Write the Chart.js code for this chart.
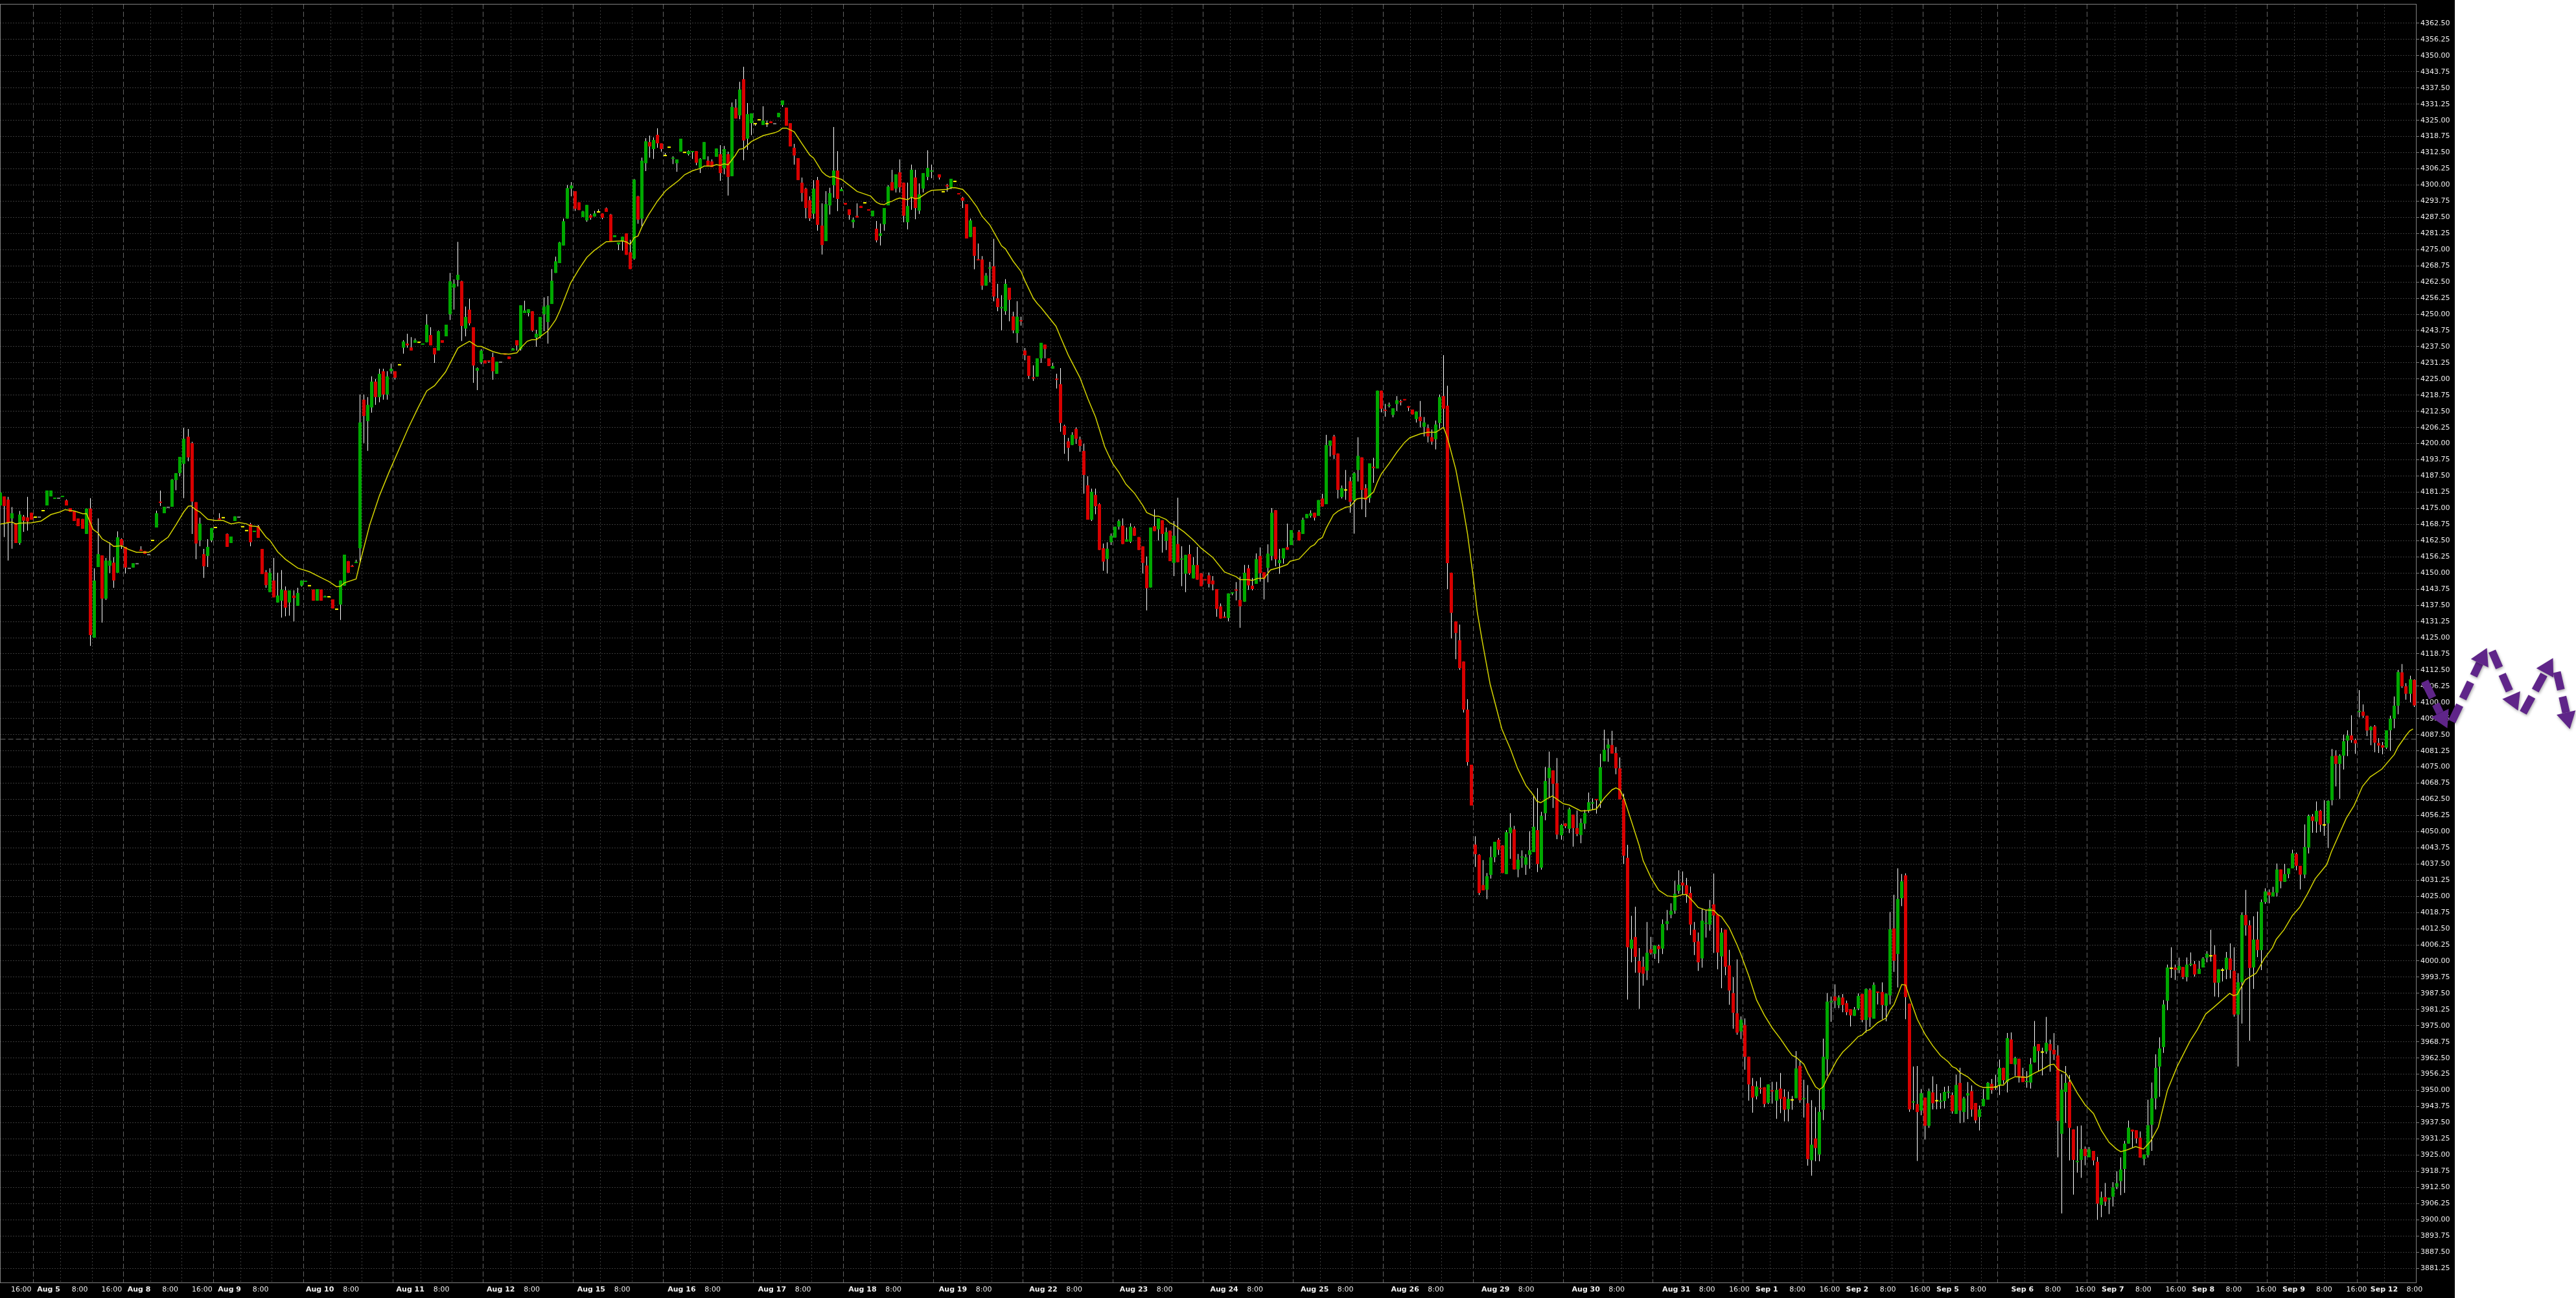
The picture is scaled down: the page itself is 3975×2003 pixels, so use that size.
<!DOCTYPE html>
<html>
<head>
<meta charset="utf-8">
<script src="https://cdn.jsdelivr.net/npm/chart.js@4"></script>
<style>
    html, body { margin: 0; padding: 0; background: #fff; }
    canvas { display: block; }
</style>
</head>
<body>
<canvas id="priceChart" width="3975" height="2003"></canvas>
<script>
// Hourly bars, one line = ten bars. Empty slot in highs / lows = no wick past the body.
const opens = [
4176.1,4179.6,4178.4,4171.1,4169.2,4161.6,4171.8,4171.5,4173.3,4171.6,
4171.6,4174.1,4176.1,4179.6,4178.7,4178.9,4179.4,4178.1,4175.1,4174,
4171.1,4170.9,4165.1,4174.9,4125,4152.3,4156.8,4140.1,4152.8,4154,
4150.1,4163.1,4160.1,4151.8,4152.1,4153.6,4159,4158.5,4157.1,4162.6,
4167.6,4177.6,4173.1,4175.4,4175.6,4185.9,4188.6,4192.2,4202.7,4200.2,
4177.4,4162.6,4157.3,4156.6,4162.6,4167.6,4171.1,4171.4,4165.1,4161.6,
4170.1,4171.6,4167.9,4166.4,4168.9,4165.9,4168.1,4159.3,4150.3,4142.6,
4147.1,4138.6,4139.3,4143.3,4138.6,4141.3,4137.3,4145.1,4146.6,4145.1,
4143.6,4139.3,4143.6,4140.6,4140.8,4139.8,4136,4137.8,4145.1,4154.6,
4152.8,4153.9,4159.6,4217,4208.7,4214,4224,4218,4228,4219,
4228,4228,4230.5,4237.1,4238.7,4237.2,4239,4239.2,4238.3,4239.2,
4242,4237,4236,4240,4241.5,4250,4260.3,4263.3,4262.8,4244.5,
4251.8,4245,4228.2,4231.5,4232.2,4232.2,4233.5,4227,4231.5,4234.8,
4233.7,4236,4240,4236.5,4250.5,4250.5,4251.2,4241,4241.5,4250,
4247,4254,4266,4269.8,4276.6,4287,4298.6,4297.6,4293.3,4287.6,
4286.3,4288.3,4287.8,4289.6,4289,4291,4288.6,4279.8,4277,4278.3,
4281.3,4274,4271.5,4295.6,4287,4308.4,4316.6,4313.9,4319.4,4316.1,
4311.4,4314.6,4310.1,4308.4,4312.9,4312.6,4311.9,4312.7,4313.1,4306.6,
4309.9,4309.4,4309.1,4310.9,4311.9,4306.4,4311.9,4303.4,4329.9,4326.9,
4340.9,4317.9,4323.9,4323.7,4325.2,4323.2,4323.7,4324.6,4323.7,4326.2,
4330.9,4329.9,4323.9,4314.4,4310.4,4300.9,4298.6,4294.1,4288.9,4301.9,
4284.3,4278.3,4292.1,4299.9,4305.6,4297.6,4293.1,4290.6,4285.6,4288.1,
4291.9,4293.1,4290.6,4287.9,4283.1,4280.3,4284.8,4292.1,4301.1,4298.6,
4304.9,4300.9,4285.6,4295.4,4302.9,4290.1,4298.6,4303.1,4305.2,,
4304.1,4297.4,4300,4299.1,4301.4,4296.8,4295.1,4292.6,4279.9,4283.8,
4271.3,4271.2,4261.1,4267.7,4268.6,4256.2,4252.4,4251.2,4260.3,4249.2,
4242.7,4247.7,4236,4234,4225.6,4225.9,4233,4238.3,4233,4229,
4225.1,4223,4206.9,4200.9,4199.5,4205.7,4201.6,4197.2,4183.9,4170.6,
4180.2,4176.6,4159.6,4155.4,4161.9,4163.7,4167.9,4168.3,4162.1,4162.1,
4167.5,4163.9,4160.3,4152.9,4144.4,4168.1,4166.9,4170.4,4162.4,4166.4,
4153.9,4161.2,4155.2,4149.7,4157.3,4147.9,4153.1,4149.9,4147.6,4149.1,
4147.1,4143.8,4137.1,4133.1,4132.6,4142.1,4143.6,4139.6,4138.9,4151.8,
4145.1,4145.8,4156.6,4150.3,4152,4156.6,4174.3,4153.8,4155.6,4160,
4160.8,,4165.9,4165.1,4171.2,4172.1,4173.3,4172.1,4178.8,4176.6,
4199.2,4202.8,4196.2,4179.4,4182.1,4185.5,4178.2,4189.8,4194.7,4182.8,
4179,4191,4190.4,4220.5,4213.1,4214.6,4211.1,4215.3,4216.4,4217.2,
4214.5,4213.2,4209.5,4210.4,4206.5,4206,4202.5,4201.7,4208,4218.4,
4214.7,4150.1,4131.3,4124,4115.8,4097.2,4075.9,4045,4041,4029.4,
4027.6,4033.3,4040.1,4046.9,4044.7,4033.6,4049.4,4050.9,4035.4,4040,
4037.2,4041,4042.1,4050.6,4036.1,4057.1,4070.7,4073.7,4068.7,4048.6,
4053.2,4051.1,4056.6,4051.4,4048.7,4053.1,4058.2,4060.9,4062.6,4062,
4077.2,4082.2,4083.5,4080.4,4074.5,4062.5,4039.9,4004.8,4009.3,4000,
3997.8,3996.3,4004.5,4002.8,4005.8,4004.8,4014.3,4017.9,4019.5,4027.1,
4030.3,4029.3,4026.3,4012.1,4007.6,4001,4014.4,4014.1,4021.9,4018,
4001.8,4012.1,3998.3,3987.6,3979.8,3972.8,3975.3,3963,3951.7,3947.7,
3950.9,3951.2,3945.2,3950,3946,3950.7,3947.5,3942.7,3946.3,3947,
3959.5,3946.6,3945,3923,3931.4,3925.2,3942.5,3962,3984.1,3986.3,
3982.9,3985.9,3983.7,3981.4,3978.8,3981.6,3987.3,3977.2,3988.8,3977.7,
3988.2,3988,3982.7,3986.7,4012.6,4002.7,4024.3,4033.1,3983.5,3945.3,
3944.7,3942.2,3947.2,3936.3,3949.2,3946,3945.6,3945.9,3949.1,3948.2,
3940.9,3952.9,3941.6,3948,3949.7,3945.1,3939.7,3943.9,3946.4,3952.5,
3951.3,3952.1,3958.7,3953.3,3969.7,3960,3962.2,3955.5,3953.2,3953,
3960.8,3967.9,3964.8,3965,3967.9,3965.7,3963.5,3933.2,3949.4,3953.3,
3934.9,3922.3,3923.1,3927.4,3924.1,3926.6,3922.4,3905.7,3908.8,3907.8,
3908.9,3912.7,3914.9,3919.6,3929.4,3934.8,3934.6,3931.7,3923.5,3925,
3936.7,3946.9,3959.2,3966.7,3984.6,3997.2,3997.5,3996.5,3997.7,3993.8,
3998.5,3998.8,3995,3997.5,4001.3,4002,4002.5,3991.6,3996.5,3996.7,
4001,3996.2,3979.3,3991.8,4017.8,4013.8,3997.5,4008.3,4004.2,4022.8,
4026.6,4025,4026.4,4035.4,4030.6,4033.6,4035.8,4041.4,4036.8,4033.4,
4043.9,4055.9,4053.9,4058.1,4052.6,4053.2,4062.2,4079.4,4076.2,4079.4,
4085.2,4087.2,4085.4,4096.3,4096.4,4094.8,4089.2,4090.7,4084.3,4083.4,
4082.5,4089.2,4093.7,4098.7,4111.6,4106.2,4103.3,4108.7
];
const closes = [
4181.1,4175.9,4169.4,4173.1,4161.6,4172.6,4170.2,4169.9,4170.6,4171.6,
4171.6,4174.1,4181.9,4181.9,4179.1,4178.9,4179.8,4176.1,4173.6,4170.1,
4168.1,4167.1,4174.9,4126,4147.1,4157.3,4140.1,4154.8,4154.8,4147.1,
4163.8,4160.7,4152.1,4151.8,4153.8,4153.6,4158.6,4157.4,4157.1,4162.6,
4173.1,4177.1,4175.6,4175.4,4186.1,4188.6,4194.9,4201.9,4194.7,4177.6,
4161.4,4169.1,4152.6,4160.1,4167.4,4167.6,4170.6,4171.4,4160.1,4164.1,
4171.9,4171.6,4167.9,4166.4,4161.9,4166.3,4163.6,4149.6,4145.3,4150.1,
4140.6,4141.3,4143.6,4136.6,4143.3,4140.3,4142.3,4147.1,4147,4145.1,
4139.3,4143.8,4139.3,4141,4140.8,4136.3,4136,4147.1,4157.1,4150.1,
4152.4,4154.3,4208.2,4210.7,4215,4224,4218,4227,4219,4226,
4229,4225.5,4230.5,4239.5,4238,4236,4240,4239.2,4238.7,4246,
4238,4234.5,4243.5,4239,4246,4262.8,4261.8,4265.3,4245.5,4249,
4246.5,4230.2,4229.2,4236,4231,4231.7,4228,4231.7,4231.5,4234.4,
4232.7,4236.8,4238,4253.5,4251.5,4252,4243.7,4242.5,4249,4253,
4253.5,4263,4270.5,4277.8,4286,4298.8,4299.8,4290.8,4290.3,4289.8,
4292.3,4287.3,4289,4289.6,4287.3,4289.6,4278.3,4280.6,4277.8,4280,
4273,4267.5,4302.1,4286.6,4309.4,4316.9,4314.9,4317.4,4316.1,4313.9,
4311.4,4314.6,4310.6,4309.9,4317.9,4312.6,4313.1,4313.1,4308.6,4310.1,
4316.6,4307.4,4306.9,4314.1,4304.6,4313.9,4303.1,4330.2,4325.7,4336.9,
4317.2,4327.4,4327.7,4323.7,4325.2,4324.9,4323.7,4323.9,4323.7,4327.9,
4332.7,4322.9,4314.9,4311.4,4301.9,4296.9,4291.1,4287.1,4298.6,4284.6,
4276.8,4292.6,4296.9,4305.6,4294.6,4298.4,4292.4,4288.4,4286.6,4287.4,
4291.1,4293.1,4290.1,4290.1,4278.6,4281.3,4291.1,4299.4,4297.9,4304.1,
4299.1,4288.1,4291.9,4305.9,4291.1,4296.4,4304.6,4306.6,4305.6,,
4302.9,4297.4,4299.4,4302.4,4301.4,4296.4,4293.9,4279.3,4286.3,4272.6,
4270.9,4261.1,4265,4268.1,4256.9,4252.8,4252.8,4261.8,4255.6,4243.8,
4249.1,4247.3,4234.2,4226.2,4225.2,4233,4239,4236.6,4230,4230,
4224.7,4208,4203.4,4198.4,4203.4,4201.9,4199.1,4187.9,4170.6,4181.4,
4175.8,4158.9,4154.4,4159.4,4164.4,4167.9,4170.1,4161.2,4163,4167.9,
4164.4,4158.9,4153.9,4144.1,4167.6,4166.2,4171.1,4165.1,4165.8,4154.6,
4164.4,4154.2,4155.6,4157,4149.9,4153.1,4147.4,4144.9,4147.2,4145.8,
4145.6,4136.1,4132.4,4132.7,4142.1,4142.5,4143.2,4137.1,4150.1,4145.2,
4143.8,4155.4,4149.9,4147.8,4157.5,4173.3,4155.3,4155,4159.6,4159,
4166.6,,4162.6,4170.6,4172.8,4173.1,4171.4,4178.2,4175.7,4199.5,
4201.2,4195.6,4182.1,4182.8,4182.1,4177.5,4188.6,4195.3,4182.1,4178.3,
4192.4,4190.6,4220.5,4213.5,4212.7,4215,4213.7,4216.8,4216,4216.8,
4213.9,4211.3,4212.4,4208.7,4208.2,4202.8,4200.8,4207.4,4218,4213.5,
4153.8,4134.6,4126.8,4113.2,4097.2,4076.9,4060.1,4041.3,4026.3,4027.3,
4032.8,4040.1,4046.1,4043,4034,4049.8,4051.6,4035.4,4039.2,4040.4,
4040.1,4042.8,4051.9,4037.5,4056.1,4069.6,4074.7,4068.5,4048.9,4052.6,
4052.1,4058.7,4051.4,4049.1,4053.4,4057.2,4061.4,4061.3,4062.2,4074.9,
4081.7,4083.7,4080.2,4074.5,4062.5,4040.7,4005.3,4008.3,4001.6,3995.5,
3995.1,4003.2,4003.1,4006,4004.6,4014.3,4015.4,4019.4,4026,4029.5,
4029.2,4025.8,4014.1,4007.3,3999.5,4015.6,4014.8,4020.4,4017.6,4003.3,
4011,3997.8,3988.6,3980,3972.3,3977.3,3963,3952.3,3947.2,3951.5,
3950.5,3944.7,3952.3,3949.6,3950.2,3946.7,3942.5,3946.7,3946.3,3958.5,
3946.2,3947,3923.4,3929,3927.7,3941.7,3963,3984.3,3984.5,3984.6,
3985.9,3983,3980.2,3979,3981.3,3986.5,3977.2,3989.2,3978.2,3990.8,
3987.7,3983,3987.3,4012.3,4000.1,4024,4030.8,3986,3942.6,3945.7,
3941.6,3948.9,3936.3,3949.7,3945,3946,3946,3949.4,3949.5,3941.9,
3952.1,3942.2,3946.9,3948.9,3942.6,3938.4,3942.6,3946.7,3952.9,3950.1,
3951.3,3958.7,3953.9,3970.2,3960.2,3962.5,3955.4,3953.2,3953.6,3960.1,
3967,3965.2,3964.8,3968.4,3965.4,3963.9,3938.2,3950.3,3952.9,3935.5,
3923.1,3922.7,3927.3,3924.6,3927.2,3922.9,3906.2,3908.6,3907,3908.5,
3912.5,3914.1,3919.4,3929.4,3935.6,3934.1,3931.4,3924,3925.2,3936.5,
3946.9,3958.7,3966.2,3983.2,3997.5,3997.2,3996.6,3998.1,3993.8,3998.6,
3998.9,3994.8,3997,4001,4002.8,4002,3991.6,3996.8,3996.5,4001.3,
3996.5,3979.3,3991.8,4017.8,4013.8,3997.3,4008.3,4004.2,4022.8,4026.9,
4025.4,4026.6,4035.4,4030.8,4033.6,4035.8,4041.6,4036.8,4033.4,4044.1,
4056.1,4054.2,4058.1,4052.7,4052.6,4061.9,4079.2,4076.2,4079.4,4085,
4087.2,4085.4,4084.1,4096.7,4094.8,4089.1,4090.5,4084.4,4083.3,4082.5,
4089.2,4093.7,4098.7,4111.7,4106.2,4103.3,4108.9,4098.8
];
const highs = [
,,4179.4,4175.5,,4174,4172.4,4179.4,,,
,,,,,,,4178.4,,,
,,,4178.9,4151.8,4171.1,,4155.8,4161.8,4156.1,
4166.1,4163.4,,,,,4160.3,,,,
4174.1,4181.9,,,4186.3,,,4206.2,4205.7,4200.7,
,4171.4,4159.3,4163.1,,,4173.1,,4165.3,,
,,,,4169.4,,4168.6,,4151.1,4151.8,
4155.8,4150.1,4151.1,4144.8,,4143.3,4144.3,,,,
,,,4141.2,,,,,,,
4153.1,4155.1,4219,4219,4218,4226,4225,4229,4229,4228,
4231,,,4240,4242.5,4241.2,4240.7,,,4250,
4245,,4243.7,,,4266,4263.5,4278,4263,4253,
4256,,4229.5,4236.5,,,4235.2,,,,
,4237,,,4255.3,,,4244,,4256.5,
4257,4267.5,4272.3,4278,4287,4300,4301.1,,,4290,
,4288.8,4290,4290.6,,4291.3,4288.8,,,,
,4278.8,4302.3,4295.8,4310.6,4318.1,4319.1,4318.4,4321.9,,
4312.4,,4311.1,,,,4313.4,,,4310.4,
,4311.1,4309.9,,4315.4,4315.1,4312.9,4331.9,4333.2,4339.9,
4345.7,4331.7,,,,4330.4,4324.9,,,,
,,,4315.9,,4302.9,4298.9,4295.6,4301.9,4303.1,
4292.9,4297.6,4298.9,4322.4,4313.1,4299.1,,,4287.4,4292.9,
,,,,4286.1,4285.1,,4299.9,4305.9,,
4309.9,,4300.9,4307.9,4305.9,4300.6,,4313.4,4307.9,,
,,4300.4,,,,4295.4,,4287,,
4277.4,4272.5,4266,4270.3,4279.2,4261.8,4257.4,4263.6,,4251,
4255.1,4249.1,4237,,4230.3,,,,,4231.2,
4227,4229.2,4207.3,4202.2,4204.4,4206.3,4202.7,4200,4187.4,4182.6,
4182.6,4177,4161.4,4161.9,4165.3,,4170.7,4171.1,4167.6,4169.2,
4168,,,4156.4,,4174.6,,,4167.6,,
4170.1,4179.1,4160.3,,4160.9,4156.1,4160.1,,,4150.2,
4148.8,,4138.2,4135,,,4146.5,4148.6,4153.1,4153.1,
4148.1,4157.6,4159.9,,4161.1,4175.1,,4159.3,,4169.1,
,,4166.6,4171.4,,4174.2,,,4180.6,4203.4,
,4203.4,,4183.8,4189.8,4187.1,4189,4202.5,,4184.3,
,4194.5,,,4215.4,4215.9,,4218.4,4217,,
,,,4216.5,4210.3,4207.4,4205.5,4208.9,4219,4234.2,
4222.4,,,4130.1,,4101.2,,4048.2,4041.3,4039,
4034,4044.3,,4047.6,,4050.6,4057.1,4052.2,4041.4,4042.8,
4041.3,4050.2,4064,4066.8,4057.7,4075,4081,,4078.5,4053,
,4059.3,,4058.2,4055.1,4058.4,4065.1,4062.9,,4080.1,
4089.4,4086,4089,4082.7,4078.7,4064.7,4044.9,4017.5,4021,4005,
4001.7,4015.1,4009.3,,4006.3,4016.1,4019.7,4022.3,4031,4035.1,
4034.6,4032.1,4028.8,4015.1,4011,4020.2,4019.7,4023.6,4033.8,,
4012.8,,4004.3,3993.8,4000.6,3978.6,3977.8,,3954.8,3953.5,
3955,,,3953.3,3953.3,3956.7,3950.4,3949.5,3947.8,3965.2,
3961.7,3954.1,3952,3946.2,3943.5,3950.3,3970,3987.6,3986.3,3991,
3986.7,3987.2,3984.7,,3982.2,3987.5,,3989.4,3989.4,3991.7,
,3991.7,3987.5,4019,4025.6,4035.8,4033.6,4033.9,,3959.2,
3959.4,3950.5,,3950.7,3955.4,3952.4,3948.9,3951.4,3951.7,3949.2,
3956.1,3958.7,3947.5,3953.2,3951.9,,3944.1,3950.5,3953.2,3954.4,
3956,3961.9,,3972.2,3972.4,3963,,3958.7,3957.4,3962.5,
3976.8,,3966.5,3978.4,3969.6,3972.1,3967.4,3956.2,3959.4,3955.9,
,3936.2,3936.4,3928.3,3928.1,,3924.3,3910.9,3914.2,,
3914.5,3918.7,3924.1,3930.5,3938.3,,,3934.1,,3946.4,
3953,3963.9,3970.5,3984.9,3998.6,4005.3,3998.6,4001.3,,4001.4,
4003.3,4000,4000,4001.5,4003.8,4012.1,4006.1,,3997.3,4003.5,
4006.8,4005.3,3995.3,4018.8,4027.5,4015.7,4017.3,4019.1,4023.8,4028.1,
4027.7,4028.7,4037.7,,4037.6,,4043,4041.9,,4052.8,
4056.6,4056.8,4061.7,4058.4,4062.2,4062.1,4082,4081.5,4079.9,4087.5,
4089.2,4095,4086,4104.7,4099.2,,4090.8,4091.2,4086.2,4084.7,
,4094.8,4102.3,4112.5,4114.8,4107.4,4110.3,4108.9
];
const lows = [
,4163.9,4154.8,4159.4,,4160.9,4165.9,4166.4,,,
,,,,,,,,,,
,,,4121.8,,,4130.8,4139.6,4150,4144.3,
,4159.3,4149.8,,,,,,,,
,4175.9,,,,4182,4187.4,4178.9,4193.2,4165.1,
4155.3,4160.3,4148.1,4152.3,4161.9,,,,,,
,,,,4160.3,,,,4144.3,,
,,4132.8,4133.3,4133.5,4131.3,,4144.8,,,
,,,,,,,4131.8,,,
,,4154.4,4200.2,4197.2,4212,4215,4216,4217,4217,
4227,4224.8,,4234.8,4237.1,,,,,,
,4231.2,,,,4247.8,4251.8,4260.8,4239.7,4241.5,
4245.7,4223.5,4220.7,4230.7,,4231.2,4224.7,,,,
,,4236,4236,,4249.2,4243.3,4237.5,4240.7,4243.5,
4238.7,,,,,,4295.6,4290,,,
4285.8,4286.6,,,4286.8,,,,4274.8,4274.6,
,,4271.1,4285,4283.8,4305.4,4310.6,4310.1,4314.4,4312.9,
,,4308.1,4305.1,,,4311.4,4310.1,4307.6,4304.6,
,,,,4301.6,4304.1,4295.9,,,4325.4,
4309.6,4313.6,4319.3,4322.9,,,4322.4,,,,
4330.2,,,4307.9,,4293.6,4287.1,4286.1,4286.9,4282.3,
4273.1,,4288.6,4295.1,4289.9,,,4286.6,4283.4,,
,,,,4277.8,4276.6,4282.3,,,4297.1,
4297.1,4285.6,4282.8,4290.4,4286.8,4288.8,4297.1,4301.9,4302.6,,
4302.1,,4297.4,4298.4,,,4291.1,,,4267.4,
,4259.5,,4262.4,4255,4251.2,4243.8,4249.8,4247.3,4242.7,
4239,4245.6,4232.2,4225,4224.3,,4231.2,4233,,,
4221.3,4204.6,4196.1,4193.3,,4199.9,4196.9,4180.7,,4170.1,
4172.7,,4150.9,4149.8,4160.8,,4166.8,,,4161.6,
,,4149.8,4135.5,,,4162.6,4157.9,4158.9,,
4148.8,,4144.9,4142.6,4149.3,,,,,4144.4,
4143.3,4133.1,,,4131.3,4141.4,4139.4,4128.8,,4143.5,
4143.3,,4146.7,4139.8,4146.4,4154.9,4152.6,4149.7,4153.6,,
,,,,,4171.4,4170.3,,,,
4195,4194.1,4178.8,4178.8,4178.3,4173.3,4165.2,4185.4,4174.6,4171.6,
4177.2,4184.9,,4212.1,4210.4,4214,4210.2,4212.6,4214.8,,
4212.6,,4208.2,4206.3,4202.8,4200.5,4199.6,4197.8,4205.8,4205.8,
4143.8,4124.7,4116.7,4112.6,4096.1,4075.5,,4036.4,4025.5,,
4023.9,4031.9,4038.2,4041,,,4039.5,,4032.4,4036.1,
4033.3,4035.7,,4034.4,4035.3,4054.4,4063,4059.2,4047.1,4046.9,
4051.4,4049.5,4044.2,4048.3,4045.5,4051,4057.3,4058.4,4057,4059.2,
,4077,,4072.2,,4037.6,3985.1,3999.5,3995.5,3981.5,
3990.5,3992.6,4002.5,4000.8,3999.2,4002.7,4011.9,4016.5,4018.3,4026,
4025.8,4022.5,4010,4002.3,3996.2,3997.4,4009.1,4011.7,4003.1,3996.8,
3989.5,3994.5,3983.1,3973.8,3971.5,3969.8,3958,3946,3941.4,3946.5,
3948.7,3943.5,3944.7,3944.9,3939,3941.2,3938,3938,3942.5,,
3945.2,3939.5,3920.9,3917,3922.6,3922.6,3938.5,3955.6,3976.5,3981.8,
3981.8,3980.2,3979.1,3974.7,,3981,3976.3,3972.3,3974.5,,
3983.2,3977.5,3976.7,3983.2,3995.8,3989.8,4021.2,3977.5,3941.7,3942.5,
3922.7,3940.4,3931,3935.5,3942.6,3942.7,3942.9,3943,3946.9,3941,
,3937.3,3937.6,3938.9,3939.8,3937.3,3934.5,,,3948.7,
3950.2,3948.2,3952.5,3949.2,,3955.6,3953,,3951,3950.7,
,3957.4,3955.8,3964.1,3957.2,3961.7,3924.1,3902.4,3937.4,3922.9,
3909.7,3918.2,3916.2,3921,,3921,3900,3901,3905.3,3902.2,
3905.1,3911.8,3909.5,3910.4,,3927.9,3929.5,,3921,3924,
3926.6,3942.6,3947.5,3964.5,3981,3993.5,3992.7,3995.3,3993,3992.1,
3998,3994,,,3999.5,3999.8,3986.3,3986,3992.1,3993,
3993.3,3978.5,3959.2,3975.8,4009.8,3969.2,3989.2,4001.5,3996.5,4022.1,
4022.3,,4025,4028.1,,4032,,4035.1,4027.7,4032,
4041.6,4049.6,4049.6,4049.9,4048.4,4043.7,4060.2,4067.5,4062.7,4074,
4079.2,4084.4,4080.1,4094.2,4094,4086.9,4083.4,4080.7,4080.4,4079.9,
4082,4081.2,4090,4095.4,4105.6,4101,4100,4098.2
];
// flat bars are yellow, these few are grey
const greyBars = [10, 15, 33, 35, 38, 43, 61, 128, 198];

// moving average, read at these bar numbers
const maBars = [0,3,4,5,8,10.5,13,15.2,16.6,19,21,22,23.8,25,26,28,29,31,33,34.9,38,39.3,41,43,45,47,48,48.8,50,51,53,55,57,59,61,63,64,66,68,69,71,73,76,79,82,84,86,87,88,91,92,94.4,97,99.4,
104.4,106.8,109,111,112.4,113.9,117,118,120,122,123,126,128,130,132,133,134.7,135.8,137,140,142,143,144,145.8,148,150,151.8,155,159,160,161,162,163,164,165.7,168,170,171.2,173.4,
175,177,179,180,182,183,184,185,186,187.9,188.9,190,192,195,198,199,200,201,203,205,207,208,209,210,211,212,213,214,215,217,219,222.5,224,225,226,227,228,229,230,232,233,234,235,237,238,242,243,244,246,247.5,
249.6,251,253,256,257,259,261,262,264,265,266,269.8,271,273,276,278,280,281,282.3,283.5,284.5,286,287.8,290,292,293,295,296,298,299,300,302.6,305,307,310,313,316,317,319,320,321.4,
323,324.7,327,329,329.7,332,335,336,337,338,339,340.7,342,344,345,346.7,348,349,351,352,353,355,357,359,360.4,363,365,367,369,370,372,373.9,375,376.5,377.6,378.8,380.8,383.8,386,387.9,389.9,391.9,392.8,393.8,395.4,
396.8,399.5,401,404,406,408,410,412,413,414,415,417,419,420,422,424,426,428,430,431,433,434,436,438,439,440,442,444,445,447,449,451,453,455,457,458,459,461,462,464,465,466,467,469.5,
471,473,475,476,477,478,480,482,483,484,485,486,487,488,490,492,494,496,498,499,500,501,503,505,506,507,510,511,512,513,515,518,520,522,524,525,526,528,529,531,533,535,537,539,541,542,543.6,
545.8,547.8,549.7,551.7,553.9,556.4,559.7,561.6,563.8,565.8,569.8,570.8,571.8,573.9,576.7,578.7,580.8,581.8,583.7,585.9,587.7,589.7,591.8,594.7,595.9,599.7,601.6,603.9,605.8,608.8,611.9,612.9,615,615.9,616.7];
const maValues = [4168.9,4169.7,4168.9,4169.3,4169.4,4170.1,4172.6,4173.6,4174.5,4174,4172.9,4173,4166.9,4165.4,4163.2,4161.5,4160.3,4160.5,4159,4158,4158,4159.3,4161.7,4163.9,4168.6,4173.6,4175.8,4176,4174.4,4173.6,4170.8,4170.3,4170.3,4169,4169.5,4169,4168.2,4167.9,4163.9,4162.6,4158.2,4155.3,4151.9,4150.5,4148.2,4146.7,4144.7,4144.9,4146.2,4147.7,4154,4168.6,4179.9,4189.1,
4206.3,4214.1,4220.4,4222.4,4224.9,4227.7,4236.9,4237.9,4239.6,4237.6,4237.6,4235.6,4234.8,4234.6,4235.1,4237,4239.6,4240.2,4240.2,4243.6,4247.9,4251.2,4255,4262.1,4267.5,4272,4274.6,4278.1,4278.4,4278,4277,4279.6,4280.3,4283.8,4288.4,4293.8,4297.6,4299.1,4301.8,
4304,4305.5,4306.4,4307.3,4307.3,4307.9,4307.6,4308.2,4307.8,4311.4,4313.8,4314.1,4316.8,4319.1,4320.2,4320.8,4322,4322,4320.6,4316,4311.6,4310.4,4308,4305.1,4303.8,4303,4303.3,4302.6,4302.2,4299.9,4297.5,4295.7,4293.3,4292.6,4292.4,4293.3,4293.7,4294.5,4295,4294.3,4295.3,4294.7,4295,4297.2,4297.9,4298.3,4298.9,4299,4298.3,4295.9,
4291.5,4287.9,4284.5,4276.5,4275.3,4270.5,4266.6,4263,4256.2,4254.2,4252.6,4245.4,4241.2,4234.2,4225.5,4217.5,4210.3,4205.5,4198.9,4195.1,4192.1,4189,4184.3,4180.9,4176.1,4173.4,4172,4172,4170.7,4169.3,4168.7,4165.8,4162.7,4159.6,4156,4150.4,4148.6,4147.4,4147.4,4147.1,4147.9,
4147.9,4151.2,4152.2,4153.3,4154.5,4155.4,4160.2,4161,4162.9,4163.7,4167.3,4172.5,4173.9,4175.4,4175.7,4178.6,4179,4178.7,4181.3,4185.2,4188.3,4192.3,4196.7,4200.5,4202.3,4203.8,4204.4,4204.4,4206.3,4202.3,4190,4175.5,4165.2,4148,4135,4123.3,4106.9,4089.7,4082.1,4074.6,4067.9,4064,4061.8,4061.2,4062.8,
4063.8,4060.8,4060.3,4058,4058.2,4058.8,4063,4066.2,4066.9,4066.2,4063.3,4054,4044.6,4038.8,4032.3,4027.4,4025.2,4024.8,4025.7,4025.7,4022.5,4020.7,4019.7,4019.6,4018,4017.1,4012.8,4006.2,4002.5,3994.3,3985,3979.1,3974.2,3969.9,3965.5,3963.5,3962.8,3960.1,3956.8,3951.4,3950.3,3951.4,3954.7,3961.7,
3964.8,3967.7,3970.8,3971.4,3972.9,3973.5,3976.2,3978,3981.1,3983.1,3986.9,3990.9,3990.7,3986,3977.5,3971.7,3967.2,3963.4,3961,3959.2,3958.5,3956.9,3955.2,3952.5,3951.6,3951.1,3951.3,3952,3952,3953.8,3955.3,3955,3956.7,3958.1,3959.9,3960.1,3958.1,3956.7,3954.3,3948.9,3944.4,3941,3934.6,3929.9,3927.2,3926.3,3926.9,
3928.3,3927.3,3930.3,3935.8,3950,3959.2,3969.1,3973.4,3979.5,3982,3987.5,3986.6,3987.1,3992.7,3995.3,4000.8,4005.1,4008.4,4012.1,4017.6,4020.7,4025.9,4031.8,4037.3,4042.2,4055.2,4060.1,4067.5,4071.2,4074.2,4079.8,4082.8,4087.1,4089,4089.7];

const lastPrice = 4085.75;

// axis ticks
const dayBars = [8.5,31.5,54.5,77.5,100.5,123.5,146.5,169.5,192.5,215.5,238.5,261.5,284.5,307.5,330.5,353.5,376.5,399.5,422.5,445.5,468.5,491.5,510.5,533.5,556.5,579.5,602.5];
const dayLabels = ['Aug 5','Aug 8','Aug 9','Aug 10','Aug 11','Aug 12','Aug 15','Aug 16','Aug 17','Aug 18','Aug 19','Aug 22','Aug 23','Aug 24','Aug 25','Aug 26','Aug 29','Aug 30','Aug 31','Sep 1','Sep 2','Sep 5','Sep 6','Sep 7','Sep 8','Sep 9','Sep 12'];
const daysWithClosingLabel = [0,1,2,19,20,21,23,24,25,26];
const priceTicks = [];
for (let p = 3881.25; p <= 4362.5; p += 6.25) priceTicks.push(p);

// drawn arrows, in bar number / price
const arrowFromBar = [619.67, 626.6, 636.9, 644.9, 653.5];
const arrowFromPrice = [4108.1, 4092.6, 4119.8, 4096, 4111.7];
const arrowToBar = [625.6, 635.6, 643.6, 652.6, 656.9];
const arrowToPrice = [4090, 4121, 4096.8, 4117.1, 4089.7];

const barPx = 6.037;
const xMin = 0.04, xMax = 617.57;

const UP = '#00a800', DOWN = '#d80000', FLAT = '#ffff00', GREY = '#808080';

const bodies = [], wicks = [];
opens.forEach((open, i) => {
    if (open === undefined) return;
    const close = closes[i];
    const top = Math.max(open, close), bottom = Math.min(open, close);
    // thin bars still need a visible body
    const pad = top - bottom < 0.5 ? (0.5 - (top - bottom)) / 2 : 0;
    let tone = close > open ? UP : close < open ? DOWN : FLAT;
    if (greyBars.includes(i)) tone = GREY;
    bodies.push({ x: i, y: [bottom - pad, top + pad], tone: tone });
    wicks.push({ x: i, y: [Math.min(lows[i] ?? bottom, bottom), Math.max(highs[i] ?? top, top)] });
});

const maPoints = maBars.map((b, i) => ({ x: b, y: maValues[i] }));

const gridTicks = [];
dayBars.forEach(b => {
    gridTicks.push({ value: b, major: true }, { value: b + 7 }, { value: b + 15 });
});
const visibleGridTicks = gridTicks.filter(t => t.value < xMax).sort((a, b) => a.value - b.value);

// the text drifts a little to the right of its gridline along the axis
const labelTicks = [];
dayBars.forEach((b, i) => {
    labelTicks.push({ value: b + (24 + 0.69 * i) / barPx, text: dayLabels[i], bold: true });
    labelTicks.push({ value: b + (72 + 0.65 * i) / barPx, text: '8:00' });
    if (daysWithClosingLabel.includes(i)) {
        labelTicks.push({ value: b + (-19 + 0.68 * (i + 1)) / barPx, text: '16:00' });
    }
});
labelTicks.sort((a, b) => a.value - b.value);

const pagePlugin = {
    id: 'page',
    beforeDraw(chart) {
        const ctx = chart.ctx;
        ctx.save();
        ctx.fillStyle = '#fff';
        ctx.fillRect(0, 0, chart.width, chart.height);
        ctx.fillStyle = '#000';
        ctx.fillRect(0, 0, 3788, chart.height);
        ctx.restore();
    },
    beforeDatasetsDraw(chart) {
        const a = chart.chartArea, ctx = chart.ctx;
        ctx.save();
        ctx.strokeStyle = '#808080';
        ctx.lineWidth = 1;
        ctx.strokeRect(a.left + 0.5, a.top + 0.5, a.right - a.left, a.bottom - a.top);
        ctx.restore();
    },
    // arrows leave the plot area so the datasets would get cut off
    afterDatasetsDraw(chart) {
        const ctx = chart.ctx, xs = chart.scales.x, ys = chart.scales.y;
        ctx.save();
        ctx.shadowColor = 'rgba(0,0,0,0.35)';
        ctx.shadowBlur = 4;
        ctx.shadowOffsetX = 1;
        ctx.shadowOffsetY = 2;
        arrowFromBar.forEach((fromBar, i) => {
            const x0 = xs.getPixelForValue(fromBar), y0 = ys.getPixelForValue(arrowFromPrice[i]);
            const x1 = xs.getPixelForValue(arrowToBar[i]), y1 = ys.getPixelForValue(arrowToPrice[i]);
            const angle = Math.atan2(y1 - y0, x1 - x0);
            const head = 26, halfBase = 15;
            const neckX = x1 - Math.cos(angle) * head, neckY = y1 - Math.sin(angle) * head;
            ctx.strokeStyle = '#5f2589';
            ctx.lineWidth = 12;
            ctx.lineCap = 'butt';
            ctx.setLineDash([28, 11]);
            ctx.beginPath();
            ctx.moveTo(x0, y0);
            ctx.lineTo(neckX, neckY);
            ctx.stroke();
            ctx.setLineDash([]);
            ctx.fillStyle = '#5f2589';
            ctx.beginPath();
            ctx.moveTo(x1, y1);
            ctx.lineTo(neckX - Math.sin(angle) * halfBase, neckY + Math.cos(angle) * halfBase);
            ctx.lineTo(neckX + Math.sin(angle) * halfBase, neckY - Math.cos(angle) * halfBase);
            ctx.closePath();
            ctx.fill();
        });
        ctx.restore();
    }
};

new Chart(document.getElementById('priceChart').getContext('2d'), {
    data: {
        datasets: [
            {
                type: 'line',
                label: 'MA',
                data: maPoints,
                borderColor: '#d4d400',
                borderWidth: 1.5,
                pointRadius: 0,
                tension: 0,
                order: 0
            },
            {
                type: 'line',
                label: 'Last',
                data: [{ x: xMin, y: lastPrice }, { x: xMax, y: lastPrice }],
                borderColor: '#6a6a6a',
                borderWidth: 1,
                borderDash: [8, 4],
                pointRadius: 0,
                order: 5
            },
            {
                type: 'bar',
                label: 'Body',
                data: bodies,
                backgroundColor: ctx => ctx.raw ? ctx.raw.tone : UP,
                barThickness: 5,
                grouped: false,
                inflateAmount: 0,
                order: 1
            },
            {
                type: 'bar',
                label: 'Wick',
                data: wicks,
                backgroundColor: '#ffffff',
                barThickness: 1,
                grouped: false,
                inflateAmount: 0,
                order: 2
            }
        ]
    },
    options: {
        responsive: false,
        animation: false,
        devicePixelRatio: 1,
        layout: { padding: { top: 6, left: 0, right: 0, bottom: 0 } },
        plugins: { legend: { display: false }, tooltip: { enabled: false } },
        scales: {
            x: {
                type: 'linear',
                position: 'bottom',
                offset: false,
                min: xMin,
                max: xMax,
                afterBuildTicks(axis) { axis.ticks = visibleGridTicks.map(t => ({ ...t })); },
                afterFit(axis) {
                    axis.height = 0;
                    axis.paddingLeft = 0;
                    axis.paddingRight = 0;
                },
                // keep the bars on whole pixels like the original
                afterUpdate(axis) {
                    const toPixel = axis.getPixelForValue;
                    axis.getPixelForValue = function(v) { return Math.round(toPixel.call(axis, v)) + 0.5; };
                },
                ticks: { display: false },
                border: {
                    display: false,
                    dash: ctx => ctx.tick && ctx.tick.major ? [8, 4] : [2, 3]
                },
                grid: {
                    offset: false,
                    drawTicks: false,
                    color: ctx => ctx.tick && ctx.tick.major ? '#626262' : '#3c3c3c',
                    lineWidth: 1
                }
            },
            xLabels: {
                type: 'linear',
                position: 'bottom',
                offset: false,
                min: xMin,
                max: xMax,
                afterBuildTicks(axis) { axis.ticks = labelTicks.map(t => ({ value: t.value })); },
                afterFit(axis) {
                    axis.height = 24;
                    axis.paddingLeft = 0;
                    axis.paddingRight = 0;
                },
                border: { display: false },
                grid: { display: false, drawTicks: false },
                ticks: {
                    autoSkip: false,
                    maxRotation: 0,
                    minRotation: 0,
                    padding: 5,
                    color: '#f0f0f0',
                    callback: (v, i) => labelTicks[i].text,
                    font: ctx => ({
                        family: '"DejaVu Sans"',
                        size: 11,
                        weight: labelTicks[ctx.index] && labelTicks[ctx.index].bold ? 'bold' : 'normal'
                    })
                }
            },
            y: {
                type: 'linear',
                position: 'right',
                min: 3875.74,
                max: 4370.01,
                afterBuildTicks(axis) { axis.ticks = priceTicks.map(v => ({ value: v })); },
                afterFit(axis) {
                    axis.width = 247;
                    axis.paddingTop = 0;
                    axis.paddingBottom = 0;
                },
                border: { display: false, dash: [2, 2] },
                grid: {
                    color: '#3a3a3a',
                    tickColor: '#808080',
                    tickLength: 5,
                    tickBorderDash: []
                },
                ticks: {
                    padding: 2,
                    color: '#f0f0f0',
                    font: { family: '"DejaVu Sans"', size: 11 },
                    callback: v => v.toFixed(2)
                }
            }
        }
    },
    plugins: [pagePlugin]
});
</script>
</body>
</html>
